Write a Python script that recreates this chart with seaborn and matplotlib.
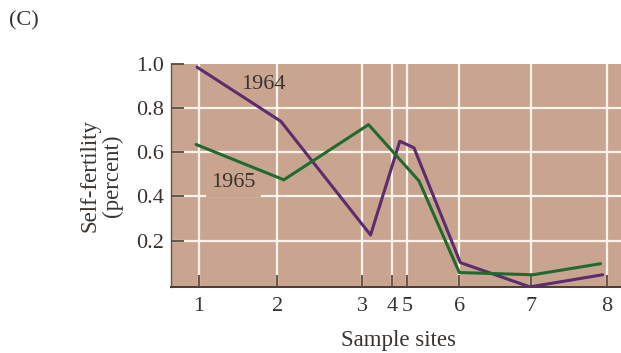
import matplotlib
matplotlib.use("Agg")
import matplotlib.pyplot as plt
import seaborn as sns
import pandas as pd

# sample site positions along the transect (arbitrary distance units)
site_labels = ["1", "2", "3", "4", "5", "6", "7", "8"]
site_pos = [0.0, 7.75, 16.15, 19.1, 20.6, 25.8, 32.9, 40.45]

# 1964 series (position, self-fertility)
x_1964 = [-0.2, 8.1, 17.0, 19.9, 21.3, 25.9, 32.8, 40.0]
y_1964 = [0.985, 0.74, 0.225, 0.65, 0.62, 0.10, -0.01, 0.045]

# 1965 series
x_1965 = [-0.3, 8.4, 16.8, 21.8, 25.8, 33.1, 39.8]
y_1965 = [0.635, 0.475, 0.725, 0.47, 0.055, 0.045, 0.095]

y_ticks = [0.2, 0.4, 0.6, 0.8, 1.0]

bg = "#C9A58F"
grid_col = "#FBF3EC"
ink = "#3A3430"
purple = "#5B2C6E"
green = "#1F6B2F"

df = pd.concat([
    pd.DataFrame({"pos": x_1964, "fert": y_1964, "year": "1964"}),
    pd.DataFrame({"pos": x_1965, "fert": y_1965, "year": "1965"}),
])

sns.set_style("white")
plt.rcParams["font.family"] = ["Liberation Serif", "DejaVu Serif"]

fig = plt.figure(figsize=(6.21, 3.53), dpi=100)
ax = fig.add_axes([0.276, 0.186, 0.73, 0.633])
ax.set_facecolor(bg)
ax.set_axisbelow(False)

# white grid
for p in site_pos:
    ax.axvline(p, color=grid_col, lw=1.6, zorder=0.3)
for t in y_ticks[:-1]:
    ax.axhline(t, color=grid_col, lw=1.6, zorder=0.3)

sns.lineplot(data=df, x="pos", y="fert", hue="year",
             palette={"1964": purple, "1965": green},
             linewidth=2.2, legend=False, ax=ax, zorder=3)

ax.set_xlim(-2.75, 42.2)
ax.set_ylim(-0.012, 1.0)
ax.set_xticks(site_pos)
ax.set_xticklabels(site_labels)
ax.set_yticks(y_ticks)
ax.set_yticklabels([f"{t:.1f}" for t in y_ticks])
ax.tick_params(axis="both", direction="in", length=9, width=1.3,
               color="#5a4a40", labelsize=16, labelcolor=ink,
               bottom=True, left=True)
ax.tick_params(axis="x", pad=7)
ax.tick_params(axis="y", pad=5)

for s in ["top", "right"]:
    ax.spines[s].set_visible(False)
ax.spines["left"].set_color("#6a5446")
ax.spines["left"].set_linewidth(1.0)
ax.spines["bottom"].set_color("#4a3a32")
ax.spines["bottom"].set_linewidth(1.4)

ax.set_xlabel("Sample sites", fontsize=16.5, color=ink, labelpad=10)
ax.set_ylabel("Self-fertility\n(percent)", fontsize=16.5, color=ink,
              labelpad=10, linespacing=1.05)

ax.text(6.4, 0.905, "1964", fontsize=16, color=ink, ha="center", va="center", zorder=4)
ax.text(3.4, 0.465, "1965", fontsize=16, color=ink, ha="center", va="center", zorder=2,
        bbox=dict(facecolor=bg, edgecolor="none", pad=4))

fig.text(0.015, 0.94, "(C)", fontsize=16, color=ink, ha="left", va="center")

fig.savefig("out.png", dpi=100)
